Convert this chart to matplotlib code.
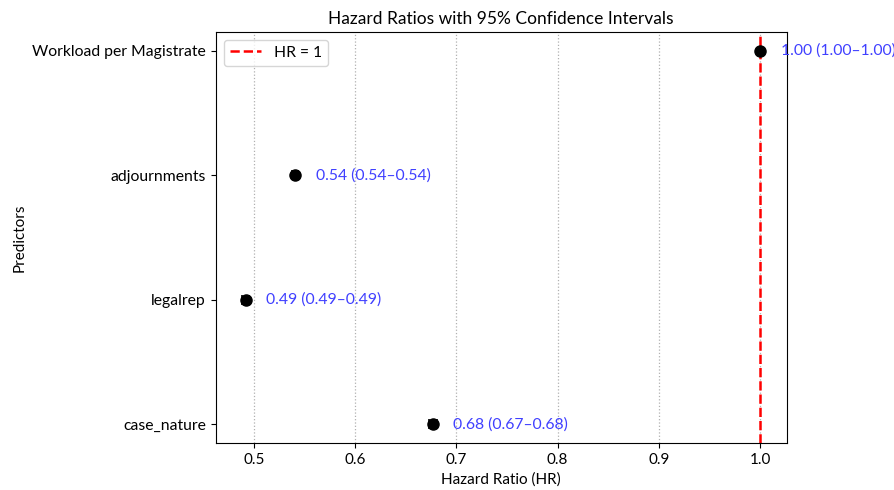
import matplotlib.pyplot as plt
import numpy as np

# Hazard ratios with 95% CI
predictors = ['case_nature', 'legalrep', 'adjournments', 'Workload per Magistrate']
hr = [0.677, 0.492, 0.541, 1.000]
ci_low = [0.673, 0.488, 0.538, 0.9995]
ci_high = [0.681, 0.495, 0.544, 1.0005]

plt.rcParams['font.family'] = ['Lato', 'DejaVu Sans']

fig, ax = plt.subplots(figsize=(8.95, 4.9), dpi=100)

y = np.arange(len(predictors))
hr_arr = np.array(hr)
xerr = [hr_arr - np.array(ci_low), np.array(ci_high) - hr_arr]

ax.errorbar(hr, y, xerr=xerr, fmt='o', color='black', ecolor='black',
            markersize=8, capsize=3.5, elinewidth=1.2, capthick=1.2, zorder=3)

ax.axvline(1.0, color='red', linestyle='--', linewidth=1.8, label='HR = 1', zorder=2)

# annotations next to the points
for yi, h, lo, hi in zip(y, hr, ci_low, ci_high):
    ax.text(h + 0.02, yi, f'{h:.2f} ({lo:.2f}\u2013{hi:.2f})',
            va='center', ha='left', color='#4040ff', fontsize=11.3)

ax.set_yticks(y)
ax.set_yticklabels(predictors, fontsize=11.3)
ax.tick_params(axis='x', labelsize=11)
ax.set_xlabel('Hazard Ratio (HR)', fontsize=11)
ax.set_ylabel('Predictors', fontsize=11)
ax.set_title('Hazard Ratios with 95% Confidence Intervals', fontsize=12.5)

ax.grid(axis='x', linestyle=':', color='#b0b0b0', linewidth=0.9)
ax.set_axisbelow(True)
ax.legend(loc='upper left', fontsize=11.3)

plt.subplots_adjust(left=0.241, right=0.879, top=0.935, bottom=0.096)
plt.savefig('out.png', dpi=100)
